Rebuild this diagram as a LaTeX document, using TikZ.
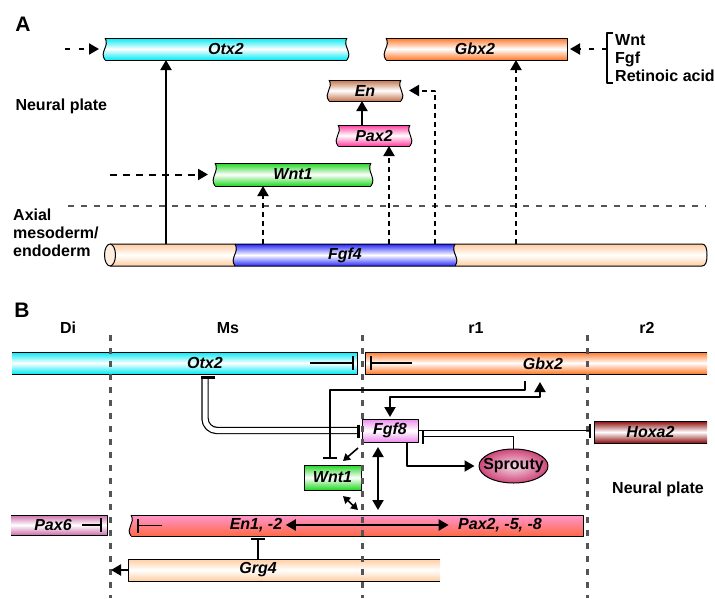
\documentclass[tikz,border=0pt]{standalone}
\usepackage{fontspec}
\setmainfont{Liberation Sans}
\usetikzlibrary{arrows.meta, positioning, fit, calc, shapes.geometric}

\definecolor{otxcol}{RGB}{0,235,245}
\definecolor{gbxcol}{RGB}{255,120,40}
\definecolor{encol}{RGB}{195,115,75}
\definecolor{paxcol}{RGB}{255,60,160}
\definecolor{wntcol}{RGB}{30,215,30}
\definecolor{fgfcol}{RGB}{40,40,250}
\definecolor{peach}{RGB}{255,205,160}
\definecolor{fgfeight}{RGB}{235,140,235}
\definecolor{hoxcol}{RGB}{140,10,10}
\definecolor{sprycol}{RGB}{205,70,120}
\definecolor{paxsix}{RGB}{205,110,170}
\definecolor{enpink}{RGB}{255,150,205}
\definecolor{ensalmon}{RGB}{255,105,70}
\definecolor{sepgray}{RGB}{85,85,85}

\begin{document}
\begin{tikzpicture}[x=1pt, y=-1pt, line join=round,
    font=\bfseries\fontsize{16}{18}\selectfont,
    gene/.style={draw, line width=1pt, inner sep=0pt, outer sep=0pt},
    glab/.style={font=\bfseries\itshape\fontsize{16}{18}\selectfont},
    shadebar/.style={top color=#1, bottom color=#1, middle color=white},
    act/.style={line width=2pt, -{Triangle[length=10pt,width=11pt]}},
    dact/.style={act, dash pattern=on 5pt off 4pt},
    sact/.style={line width=1.6pt, -{Triangle[length=7pt,width=8pt]}},
    dbl/.style={line width=2pt, {Triangle[length=10pt,width=11pt]}-{Triangle[length=10pt,width=11pt]}},
    sdbl/.style={line width=1.6pt, {Triangle[length=7pt,width=8pt]}-{Triangle[length=7pt,width=8pt]}},
    inh/.style={-{Bar[width=14pt,line width=2.4pt]}},
    bound/.style={sepgray, line width=3pt, dash pattern=on 6pt off 7pt}]
  \useasboundingbox (0,0) rectangle (715,598);

  % ---------- panel A ----------
  \node[font=\bfseries\fontsize{21}{24}\selectfont] (labA) at (23,24) {A};
  \node[anchor=west] (npA) at (12,106) {Neural plate};
  \node[anchor=west, align=left, inner sep=0pt] (axl) at (13,233) {Axial\\mesoderm/\\endoderm};
  \node[anchor=west, align=left, inner sep=1pt] (sig) at (614,58) {Wnt\\Fgf\\Retinoic acid};
  \draw[line width=1.5pt] ([xshift=-1pt]sig.north west) -- ++(-6,0) |- ([xshift=-1pt]sig.south west);

  % genes of the neural plate
  \node[gene, shadebar=otxcol, fit={(102,38) (350,60)}, label={[glab]center:Otx2}] (otxA) {};
  \node[gene, shadebar=gbxcol, fit={(383,38) (567,60)}, label={[glab]center:Gbx2}] (gbxA) {};
  \node[gene, shadebar=encol, fit={(326,80) (404,101)}, label={[glab]center:En}] (enA) {};
  \node[gene, shadebar=paxcol, fit={(335,125) (413,146)}, label={[glab]center:Pax2}] (paxA) {};
  \node[gene, shadebar=wntcol, fit={(212,163) (374,186)}, label={[glab]center:Wnt1}] (wntA) {};

  % axial mesoderm cylinder
  \shade[shadebar=peach] (110,244) -- (702,244) .. controls (706,244) and (707,249) .. (707,255)
    .. controls (707,261) and (706,266) .. (702,266) -- (110,266) -- cycle;
  \shade[shadebar=fgfcol] (235,244) .. controls (240,252) and (229,258) .. (235,266) -- (455,266)
    .. controls (461,258) and (450,252) .. (455,244) -- cycle;
  \draw[line width=1pt] (110,244) -- (702,244) .. controls (706,244) and (707,249) .. (707,255)
    .. controls (707,261) and (706,266) .. (702,266) -- (110,266);
  \draw[line width=1pt] (235,244) .. controls (240,252) and (229,258) .. (235,266);
  \draw[line width=1pt] (455,266) .. controls (461,258) and (450,252) .. (455,244);
  \draw[line width=1pt, fill=peach!35!white] (110,255) ellipse [x radius=5.5, y radius=11];
  \node[gene, draw=none, fit={(105,244) (707,266)}] (axial) {};
  \node[gene, draw=none, fit={(235,244) (455,266)}, label={[glab]center:Fgf4}] (fgf4) {};

  % torn ends
  \foreach \n in {otxA,gbxA,enA,paxA,wntA} {
    \fill[white] ([shift={(-1pt,1pt)}]\n.north west) -- ([shift={(3pt,1pt)}]\n.north west) -- ([xshift=3pt]\n.north west)
      .. controls +(5pt,-8pt) and +(-6pt,8pt) .. ([xshift=3pt]\n.south west)
      -- ([shift={(3pt,-1pt)}]\n.south west) -- ([shift={(-1pt,-1pt)}]\n.south west) -- cycle;
    \draw[line width=1pt] ([xshift=3pt]\n.north west)
      .. controls +(5pt,-8pt) and +(-6pt,8pt) .. ([xshift=3pt]\n.south west);
  }
  \foreach \n in {otxA,enA,paxA,wntA} {
    \fill[white] ([shift={(1pt,1pt)}]\n.north east) -- ([shift={(-3pt,1pt)}]\n.north east) -- ([xshift=-3pt]\n.north east)
      .. controls +(-5pt,-8pt) and +(6pt,8pt) .. ([xshift=-3pt]\n.south east)
      -- ([shift={(-3pt,-1pt)}]\n.south east) -- ([shift={(1pt,-1pt)}]\n.south east) -- cycle;
    \draw[line width=1pt] ([xshift=-3pt]\n.north east)
      .. controls +(-5pt,-8pt) and +(6pt,8pt) .. ([xshift=-3pt]\n.south east);
  }

  % tissue boundary
  \draw[bound, line width=2.5pt] (68,206) -- (706,206);

  % signals from the axial mesoderm
  \foreach \nm/\dx in {s1/61, s2/158, s3/284, s4/330, s5/411}
    \coordinate (\nm) at ([xshift=\dx pt]axial.north west);
  \draw[act] (s1) -- (s1 |- otxA.south);
  \draw[dact] (s2) -- (s2 |- wntA.south);
  \draw[dact] (s3) -- (s3 |- paxA.south);
  \draw[dact] (s4) |- ([xshift=5pt]enA.east);
  \draw[dact] (s5) -- (s5 |- gbxA.south);
  \draw[act] ([xshift=-12pt]paxA.north) -- ++(0,-24);
  \draw[dact, dash pattern=on 5pt off 9pt] ([xshift=-37pt]otxA.west) -- ([xshift=-3pt]otxA.west);
  \draw[dact, dash pattern=on 7pt off 6pt] ([xshift=-102pt]wntA.west) -- ([xshift=-4pt]wntA.west);
  \draw[dact, dash pattern=on 5pt off 8pt] ([xshift=-7pt]sig.west |- gbxA.east) -- ([xshift=3pt]gbxA.east);

  % ---------- panel B ----------
  \node[font=\bfseries\fontsize{21}{24}\selectfont] (labB) at (22,310) {B};
  \node (di) at (68,328) {Di};
  \node (ms) at (228,328) {Ms};
  \node (rone) at (476,328) {r1};
  \node (rtwo) at (647,328) {r2};
  \node (npB) at (658,489) {Neural plate};

  \node[gene, draw=none, shadebar=otxcol, fit={(12,352) (357,374)}] (otxB) {};
  \draw[line width=1pt] (otxB.north west) -- (otxB.north east) -- (otxB.south east) -- (otxB.south west);
  \node[gene, draw=none, shadebar=gbxcol, fit={(365,352) (707,374)}] (gbxB) {};
  \draw[line width=1pt] (gbxB.north east) -- (gbxB.north west) -- (gbxB.south west) -- (gbxB.south east);
  \node[gene, draw=none, shadebar=hoxcol, fit={(594,421) (707,443)}, label={[glab]center:Hoxa2}] (hoxa) {};
  \draw[line width=1pt] (hoxa.north east) -- (hoxa.north west) -- (hoxa.south west) -- (hoxa.south east);
  \node[gene, draw=none, shadebar=paxsix, fit={(11,515) (107,535)}] (paxsix) {};
  \draw[line width=1pt] (paxsix.north west) -- (paxsix.north east) -- (paxsix.south east) -- (paxsix.south west);
  \node[gene, draw=none, shadebar=peach, fit={(128,559) (440,581)}] (grg) {};
  \draw[line width=1pt] (grg.north east) -- (grg.north west) -- (grg.south west) -- (grg.south east);
  \node[gene, top color=enpink, middle color=enpink!30!white, bottom color=ensalmon,
    fit={(128,515) (583,536)}] (enB) {};
  \node[gene, shadebar=fgfeight, fit={(362,419) (418,442)}, label={[glab]center:Fgf8}] (fgf8) {};
  \node[gene, shadebar=wntcol, fit={(304,465) (361,490)}, label={[glab]center:Wnt1}] (wntB) {};
  \node[ellipse, draw, line width=1pt, inner color=sprycol!20!white, outer color=sprycol,
    minimum width=69, minimum height=34, inner sep=0pt] (spry) at (513.5,466) {\makebox[0pt]{Sprouty}};

  \fill[white] ([shift={(-1pt,1pt)}]enB.north west) -- ([shift={(3pt,1pt)}]enB.north west) -- ([xshift=3pt]enB.north west)
    .. controls +(5pt,-8pt) and +(-6pt,8pt) .. ([xshift=3pt]enB.south west)
    -- ([shift={(3pt,-1pt)}]enB.south west) -- ([shift={(-1pt,-1pt)}]enB.south west) -- cycle;
  \draw[line width=1pt] ([xshift=3pt]enB.north west)
    .. controls +(5pt,-8pt) and +(-6pt,8pt) .. ([xshift=3pt]enB.south west);

  \node[glab] (otxBt) at (205,363) {Otx2};
  \node[glab] (gbxBt) at (543,364) {Gbx2};
  \node[glab] (paxsixt) at (53,525) {Pax6};
  \node[glab] (enBt) at (256,525) {En1, -2};
  \node[glab] (paxBt) at (500,525) {Pax2, -5, -8};
  \node[glab] (grgt) at (258,570) {Grg4};

  % segment boundaries
  \foreach \x in {110,362,587}
    \draw[bound] (\x,335) -- (\x,598);

  % interactions
  \draw[inh, line width=2pt] ([xshift=-47pt]otxB.east) -- ([xshift=-3pt]otxB.east);
  \draw[inh, line width=2pt] ([xshift=47pt]gbxB.west) -- ([xshift=5pt]gbxB.west);
  \coordinate (dtop) at (otxBt.south |- otxB.south);
  \draw[line width=1.2pt, double, double distance=5pt, rounded corners=12pt]
    ([yshift=-4pt]dtop) |- ([xshift=-4pt]fgf8.west);
  \draw[line width=3pt] ([shift={(-4pt,-3pt)}]dtop) -- ([shift={(10pt,-3pt)}]dtop);
  \draw[line width=3pt] ([shift={(-4pt,6pt)}]fgf8.west) -- ([shift={(-4pt,-7pt)}]fgf8.west);
  \draw[dbl, shorten <=2pt, shorten >=8pt] (fgf8.north) -- ++(0,-22) -| ([xshift=4pt]gbxB.south);
  \draw[inh, line width=2pt, shorten <=7pt, shorten >=6pt] ([xshift=-11pt]gbxB.south) -- ++(0,16)
    -| ([xshift=-3pt]wntB.north);
  \draw[inh, line width=1.2pt, shorten >=3pt] (fgf8.east) -- (fgf8.east -| hoxa.west);
  \draw[inh, line width=1.2pt, shorten >=4pt] (spry.north) |- ([yshift=-6pt]fgf8.east);
  \draw[act, shorten >=4pt] ([xshift=-11pt]fgf8.south east) |- (spry.west);
  \draw[sact] ([shift={(-4pt,-6pt)}]fgf8.south west) -- ([shift={(-18pt,4pt)}]wntB.north east);
  \draw[sdbl] ([shift={(-18pt,-6pt)}]wntB.south east) -- ([shift={(-3pt,-20pt)}]wntB.south east);
  \draw[dbl, shorten <=5pt, shorten >=5pt] ([xshift=-12pt]fgf8.south) -- ++(0,73);
  \draw[dbl] (enBt.east) -- ([xshift=-6pt]paxBt.west);
  \draw[inh, line width=1.2pt] ([xshift=34pt]enB.west) -- ([xshift=9pt]enB.west);
  \draw[inh, line width=1.2pt] ([xshift=-25pt]paxsix.east) -- ([xshift=-5pt]paxsix.east);
  \draw[inh, line width=2pt, shorten >=2pt] (grgt.north |- grg.north) -- (grgt.north |- enB.south);
  \draw[act] (grg.west) -- ++(-17,0);
\end{tikzpicture}
\end{document}
